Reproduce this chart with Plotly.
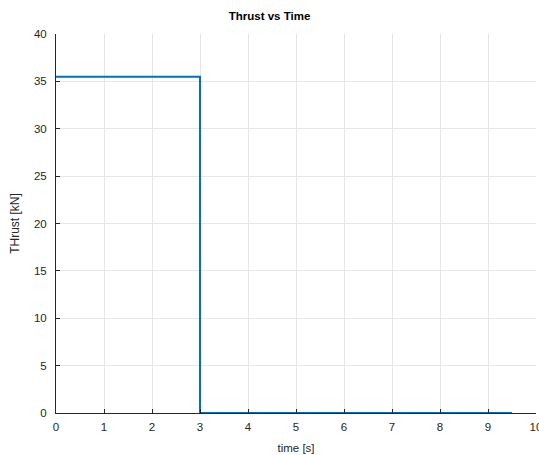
import plotly.graph_objects as go

time_s = [0, 3, 3, 9.5]
thrust_kN = [35.5, 35.5, 0, 0]
x_ticks = list(range(0, 11))
y_ticks = list(range(0, 41, 5))

FONT = "Liberation Sans, Arial"

fig = go.Figure()
fig.add_trace(go.Scatter(x=time_s, y=thrust_kN, mode="lines",
                         line=dict(color="#0072BD", width=2), showlegend=False))

axis_common = dict(showgrid=True, gridcolor="#e6e6e6", gridwidth=1,
                   zeroline=False, showline=True, linecolor="#262626", linewidth=1,
                   ticks="inside", ticklen=4, tickcolor="#262626",
                   ticklabeloverflow="allow", automargin=False,
                   tickfont=dict(family=FONT, size=11.5, color="#262626"))

fig.update_layout(
    width=539, height=455,
    margin=dict(l=56, r=3, t=34, b=42),
    paper_bgcolor="white", plot_bgcolor="white",
    title=dict(text="<b>Thrust vs Time</b>", x=0.5, xanchor="center", y=0.965, yanchor="middle",
               font=dict(family=FONT, size=11.5, color="black")),
    xaxis=dict(range=[0, 10], tickvals=x_ticks, ticklabelstandoff=3,
               title=dict(text="time [s]", standoff=12,
                          font=dict(family=FONT, size=11.5, color="#262626")), **axis_common),
    yaxis=dict(range=[0, 40], tickvals=y_ticks, ticklabelstandoff=6,
               title=dict(text="THrust [kN]", standoff=11,
                          font=dict(family=FONT, size=12, color="#262626")), **axis_common),
)
fig.write_html("out.html")
